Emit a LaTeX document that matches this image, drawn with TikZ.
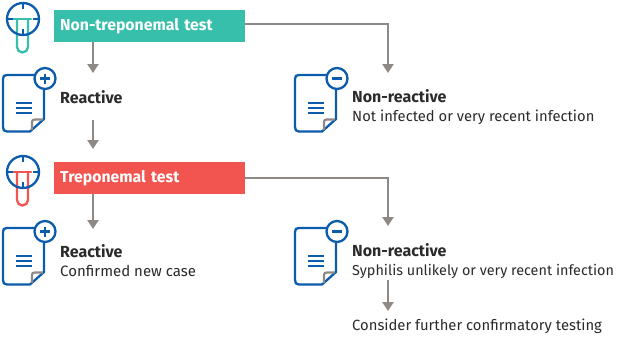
\documentclass[tikz,border=0pt]{standalone}
\usepackage{fontspec}
\setmainfont{Fira Sans}
\usetikzlibrary{arrows.meta}
\definecolor{tealc}{HTML}{38BFAB}
\definecolor{redc}{HTML}{F2544F}
\definecolor{bluec}{HTML}{0B5CAB}
\definecolor{grayc}{HTML}{8E8985}
\definecolor{textc}{HTML}{2B2B2B}
\newcommand{\hd}[1]{{\fontsize{16}{19}\selectfont\bfseries #1}}
\newcommand{\sz}[2]{{\fontsize{#1}{19}\selectfont #2}}
\tikzset{
  x=1pt,y=-1pt,
  flow/.style={draw=grayc,line width=2.7pt,-{Triangle[length=9pt,width=11pt]}},
  banner/.style={anchor=north west,minimum width=191pt,minimum height=32pt,inner sep=0pt,text=white,font=\fontsize{15.8}{18}\selectfont\bfseries,text width=191pt,align=left},
  lbl/.style={anchor=west,inner sep=0pt,text=textc,font=\fontsize{14.7}{19}\selectfont,align=left},
  ico/.style={draw=bluec,line width=2.3pt,line join=round,line cap=round},
  pics/docicon/.style={code={
    \draw[ico,fill=white] (4,0) -- (41,0) -- (41,44) -- (27,56.5) -- (4,56.5) .. controls (1,56.5) and (0,55) .. (0,52) -- (0,4) .. controls (0,1) and (1,0) .. (4,0) -- cycle;
    \draw[draw=grayc,line width=2.2pt,line join=round] (29,55) -- (29,47) .. controls (29,45) and (30,44.5) .. (32,44.5) -- (40,44.5);
    \draw[ico,line cap=butt] (12.5,28) -- (29,28) (12.5,33) -- (29,33) (12.5,38) -- (29,38);
    \draw[ico,fill=white] (42,3.5) circle (10.5);
    \draw[ico,line cap=butt] (37,3.5) -- (47,3.5);
    \ifnum#1=1 \draw[ico,line cap=butt] (42,-1.5) -- (42,8.5);\fi
  }},
  pics/tube/.style={code={
    \draw[draw=#1,line width=2.3pt,line cap=round] (-10,0) -- (8,0);
    \draw[draw=#1,line width=2.3pt] (-6,0) -- (-6,28) arc[start angle=180,end angle=0,radius=5.5] -- (5,0);
    \draw[ico] (0,0) circle (16);
    \draw[ico,line cap=butt] (0,-16) -- (0,-10) (-16,0) -- (-10,0) (16,0) -- (10,0) (0,10) -- (0,16);
  }}
}
\begin{document}
\begin{tikzpicture}
\useasboundingbox (0,0) rectangle (617,338);
\fill[white] (0,0) rectangle (617,338);
\pic at (23,19) {tube={tealc}};
\pic at (23,172) {tube={redc}};
\pic at (3,75) {docicon=1};
\pic at (3,228) {docicon=1};
\pic at (295,75) {docicon=0};
\pic at (295,228) {docicon=0};
\node[banner,fill=tealc] (nt) at (54,10) {\hspace{6pt}Non-treponemal test};
\node[banner,fill=redc] (tt) at (54,162) {\hspace{6pt}Treponemal test};
\node[lbl] (r1) at (60,97) {\hd{Reactive}};
\node[lbl] (n1) at (352,107) {\hd{Non-reactive}\\\sz{14.75}{Not infected or very recent infection}};
\node[lbl] (r2) at (60,261) {\hd{Reactive}\\\sz{15}{Confirmed new case}};
\node[lbl] (n2) at (352,261) {\hd{Non-reactive}\\\sz{14.4}{Syphilis unlikely or very recent infection}};
\node[lbl] (c) at (352,326) {\sz{14.8}{Consider further confirmatory testing}};
\coordinate (a1) at (93,73);
\coordinate (a2) at (93,120);
\coordinate (a3) at (93,149);
\coordinate (a4) at (388,73);
\coordinate (a5) at (93,229);
\coordinate (a6) at (388,226);
\coordinate (a7) at (388,280);
\coordinate (a8) at (388,311);
\draw[flow] (nt.south -| a1) -- (a1);
\draw[flow] (a2) -- (a3);
\draw[flow] (nt.east |- 0,24) -| (a4);
\draw[flow] (tt.south -| a5) -- (a5);
\draw[flow] (tt.east |- 0,178) -| (a6);
\draw[flow] (a7) -- (a8);
\end{tikzpicture}
\end{document}
